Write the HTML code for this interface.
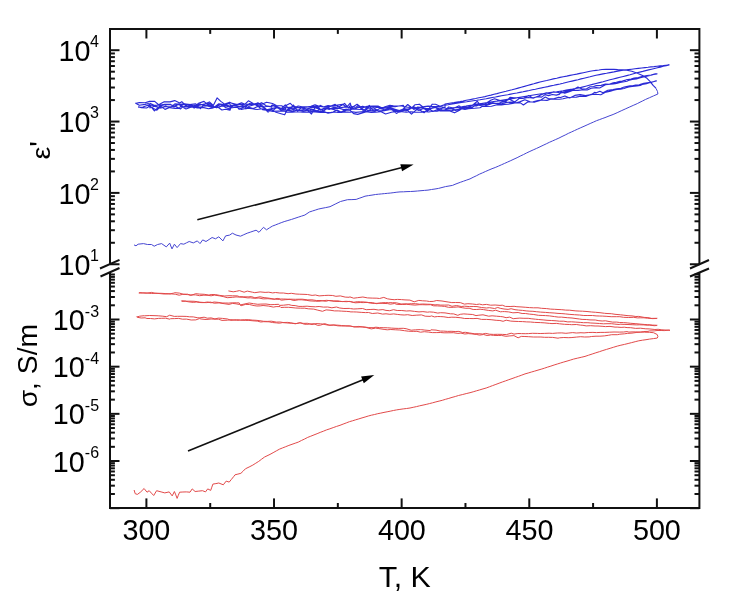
<!DOCTYPE html>
<html><head><meta charset="utf-8"><title>plot</title>
<style>html,body{margin:0;padding:0;background:#fff;} svg{display:block;}</style>
</head><body>
<svg width="743" height="602" viewBox="0 0 743 602"><rect width="100%" height="100%" fill="#fff"/><path d="M110.0,264.0 L110.0,29.0 L699.4,29.0 L699.4,264.0" fill="none" stroke="#111" stroke-width="2.0" stroke-linejoin="miter"/>
<path d="M110.0,272.3 L110.0,507.9 L699.4,507.9 L699.4,272.3" fill="none" stroke="#111" stroke-width="2.0" stroke-linejoin="miter"/>
<line x1="146.40" y1="507.90" x2="146.40" y2="498.40" stroke="#111" stroke-width="2.0"/>
<line x1="146.40" y1="29.00" x2="146.40" y2="38.50" stroke="#111" stroke-width="2.0"/>
<line x1="274.03" y1="507.90" x2="274.03" y2="498.40" stroke="#111" stroke-width="2.0"/>
<line x1="274.03" y1="29.00" x2="274.03" y2="38.50" stroke="#111" stroke-width="2.0"/>
<line x1="401.65" y1="507.90" x2="401.65" y2="498.40" stroke="#111" stroke-width="2.0"/>
<line x1="401.65" y1="29.00" x2="401.65" y2="38.50" stroke="#111" stroke-width="2.0"/>
<line x1="529.28" y1="507.90" x2="529.28" y2="498.40" stroke="#111" stroke-width="2.0"/>
<line x1="529.28" y1="29.00" x2="529.28" y2="38.50" stroke="#111" stroke-width="2.0"/>
<line x1="656.90" y1="507.90" x2="656.90" y2="498.40" stroke="#111" stroke-width="2.0"/>
<line x1="656.90" y1="29.00" x2="656.90" y2="38.50" stroke="#111" stroke-width="2.0"/>
<line x1="210.21" y1="507.90" x2="210.21" y2="503.00" stroke="#111" stroke-width="2.0"/>
<line x1="210.21" y1="29.00" x2="210.21" y2="33.90" stroke="#111" stroke-width="2.0"/>
<line x1="337.84" y1="507.90" x2="337.84" y2="503.00" stroke="#111" stroke-width="2.0"/>
<line x1="337.84" y1="29.00" x2="337.84" y2="33.90" stroke="#111" stroke-width="2.0"/>
<line x1="465.46" y1="507.90" x2="465.46" y2="503.00" stroke="#111" stroke-width="2.0"/>
<line x1="465.46" y1="29.00" x2="465.46" y2="33.90" stroke="#111" stroke-width="2.0"/>
<line x1="593.09" y1="507.90" x2="593.09" y2="503.00" stroke="#111" stroke-width="2.0"/>
<line x1="593.09" y1="29.00" x2="593.09" y2="33.90" stroke="#111" stroke-width="2.0"/>
<line x1="110.00" y1="264.25" x2="119.50" y2="264.25" stroke="#111" stroke-width="2.0"/>
<line x1="699.40" y1="264.25" x2="689.90" y2="264.25" stroke="#111" stroke-width="2.0"/>
<line x1="110.00" y1="242.77" x2="114.90" y2="242.77" stroke="#111" stroke-width="2.0"/>
<line x1="699.40" y1="242.77" x2="694.50" y2="242.77" stroke="#111" stroke-width="2.0"/>
<line x1="110.00" y1="230.21" x2="114.90" y2="230.21" stroke="#111" stroke-width="2.0"/>
<line x1="699.40" y1="230.21" x2="694.50" y2="230.21" stroke="#111" stroke-width="2.0"/>
<line x1="110.00" y1="221.29" x2="114.90" y2="221.29" stroke="#111" stroke-width="2.0"/>
<line x1="699.40" y1="221.29" x2="694.50" y2="221.29" stroke="#111" stroke-width="2.0"/>
<line x1="110.00" y1="214.38" x2="114.90" y2="214.38" stroke="#111" stroke-width="2.0"/>
<line x1="699.40" y1="214.38" x2="694.50" y2="214.38" stroke="#111" stroke-width="2.0"/>
<line x1="110.00" y1="208.73" x2="114.90" y2="208.73" stroke="#111" stroke-width="2.0"/>
<line x1="699.40" y1="208.73" x2="694.50" y2="208.73" stroke="#111" stroke-width="2.0"/>
<line x1="110.00" y1="203.95" x2="114.90" y2="203.95" stroke="#111" stroke-width="2.0"/>
<line x1="699.40" y1="203.95" x2="694.50" y2="203.95" stroke="#111" stroke-width="2.0"/>
<line x1="110.00" y1="199.81" x2="114.90" y2="199.81" stroke="#111" stroke-width="2.0"/>
<line x1="699.40" y1="199.81" x2="694.50" y2="199.81" stroke="#111" stroke-width="2.0"/>
<line x1="110.00" y1="196.16" x2="114.90" y2="196.16" stroke="#111" stroke-width="2.0"/>
<line x1="699.40" y1="196.16" x2="694.50" y2="196.16" stroke="#111" stroke-width="2.0"/>
<line x1="110.00" y1="192.90" x2="119.50" y2="192.90" stroke="#111" stroke-width="2.0"/>
<line x1="699.40" y1="192.90" x2="689.90" y2="192.90" stroke="#111" stroke-width="2.0"/>
<line x1="110.00" y1="171.42" x2="114.90" y2="171.42" stroke="#111" stroke-width="2.0"/>
<line x1="699.40" y1="171.42" x2="694.50" y2="171.42" stroke="#111" stroke-width="2.0"/>
<line x1="110.00" y1="158.86" x2="114.90" y2="158.86" stroke="#111" stroke-width="2.0"/>
<line x1="699.40" y1="158.86" x2="694.50" y2="158.86" stroke="#111" stroke-width="2.0"/>
<line x1="110.00" y1="149.94" x2="114.90" y2="149.94" stroke="#111" stroke-width="2.0"/>
<line x1="699.40" y1="149.94" x2="694.50" y2="149.94" stroke="#111" stroke-width="2.0"/>
<line x1="110.00" y1="143.03" x2="114.90" y2="143.03" stroke="#111" stroke-width="2.0"/>
<line x1="699.40" y1="143.03" x2="694.50" y2="143.03" stroke="#111" stroke-width="2.0"/>
<line x1="110.00" y1="137.38" x2="114.90" y2="137.38" stroke="#111" stroke-width="2.0"/>
<line x1="699.40" y1="137.38" x2="694.50" y2="137.38" stroke="#111" stroke-width="2.0"/>
<line x1="110.00" y1="132.60" x2="114.90" y2="132.60" stroke="#111" stroke-width="2.0"/>
<line x1="699.40" y1="132.60" x2="694.50" y2="132.60" stroke="#111" stroke-width="2.0"/>
<line x1="110.00" y1="128.46" x2="114.90" y2="128.46" stroke="#111" stroke-width="2.0"/>
<line x1="699.40" y1="128.46" x2="694.50" y2="128.46" stroke="#111" stroke-width="2.0"/>
<line x1="110.00" y1="124.81" x2="114.90" y2="124.81" stroke="#111" stroke-width="2.0"/>
<line x1="699.40" y1="124.81" x2="694.50" y2="124.81" stroke="#111" stroke-width="2.0"/>
<line x1="110.00" y1="121.55" x2="119.50" y2="121.55" stroke="#111" stroke-width="2.0"/>
<line x1="699.40" y1="121.55" x2="689.90" y2="121.55" stroke="#111" stroke-width="2.0"/>
<line x1="110.00" y1="100.07" x2="114.90" y2="100.07" stroke="#111" stroke-width="2.0"/>
<line x1="699.40" y1="100.07" x2="694.50" y2="100.07" stroke="#111" stroke-width="2.0"/>
<line x1="110.00" y1="87.51" x2="114.90" y2="87.51" stroke="#111" stroke-width="2.0"/>
<line x1="699.40" y1="87.51" x2="694.50" y2="87.51" stroke="#111" stroke-width="2.0"/>
<line x1="110.00" y1="78.59" x2="114.90" y2="78.59" stroke="#111" stroke-width="2.0"/>
<line x1="699.40" y1="78.59" x2="694.50" y2="78.59" stroke="#111" stroke-width="2.0"/>
<line x1="110.00" y1="71.68" x2="114.90" y2="71.68" stroke="#111" stroke-width="2.0"/>
<line x1="699.40" y1="71.68" x2="694.50" y2="71.68" stroke="#111" stroke-width="2.0"/>
<line x1="110.00" y1="66.03" x2="114.90" y2="66.03" stroke="#111" stroke-width="2.0"/>
<line x1="699.40" y1="66.03" x2="694.50" y2="66.03" stroke="#111" stroke-width="2.0"/>
<line x1="110.00" y1="61.25" x2="114.90" y2="61.25" stroke="#111" stroke-width="2.0"/>
<line x1="699.40" y1="61.25" x2="694.50" y2="61.25" stroke="#111" stroke-width="2.0"/>
<line x1="110.00" y1="57.11" x2="114.90" y2="57.11" stroke="#111" stroke-width="2.0"/>
<line x1="699.40" y1="57.11" x2="694.50" y2="57.11" stroke="#111" stroke-width="2.0"/>
<line x1="110.00" y1="53.46" x2="114.90" y2="53.46" stroke="#111" stroke-width="2.0"/>
<line x1="699.40" y1="53.46" x2="694.50" y2="53.46" stroke="#111" stroke-width="2.0"/>
<line x1="110.00" y1="50.20" x2="119.50" y2="50.20" stroke="#111" stroke-width="2.0"/>
<line x1="699.40" y1="50.20" x2="689.90" y2="50.20" stroke="#111" stroke-width="2.0"/>
<line x1="110.00" y1="508.18" x2="119.50" y2="508.18" stroke="#111" stroke-width="2.0"/>
<line x1="699.40" y1="508.18" x2="689.90" y2="508.18" stroke="#111" stroke-width="2.0"/>
<line x1="110.00" y1="493.98" x2="114.90" y2="493.98" stroke="#111" stroke-width="2.0"/>
<line x1="699.40" y1="493.98" x2="694.50" y2="493.98" stroke="#111" stroke-width="2.0"/>
<line x1="110.00" y1="485.67" x2="114.90" y2="485.67" stroke="#111" stroke-width="2.0"/>
<line x1="699.40" y1="485.67" x2="694.50" y2="485.67" stroke="#111" stroke-width="2.0"/>
<line x1="110.00" y1="479.78" x2="114.90" y2="479.78" stroke="#111" stroke-width="2.0"/>
<line x1="699.40" y1="479.78" x2="694.50" y2="479.78" stroke="#111" stroke-width="2.0"/>
<line x1="110.00" y1="475.21" x2="114.90" y2="475.21" stroke="#111" stroke-width="2.0"/>
<line x1="699.40" y1="475.21" x2="694.50" y2="475.21" stroke="#111" stroke-width="2.0"/>
<line x1="110.00" y1="471.47" x2="114.90" y2="471.47" stroke="#111" stroke-width="2.0"/>
<line x1="699.40" y1="471.47" x2="694.50" y2="471.47" stroke="#111" stroke-width="2.0"/>
<line x1="110.00" y1="468.32" x2="114.90" y2="468.32" stroke="#111" stroke-width="2.0"/>
<line x1="699.40" y1="468.32" x2="694.50" y2="468.32" stroke="#111" stroke-width="2.0"/>
<line x1="110.00" y1="465.58" x2="114.90" y2="465.58" stroke="#111" stroke-width="2.0"/>
<line x1="699.40" y1="465.58" x2="694.50" y2="465.58" stroke="#111" stroke-width="2.0"/>
<line x1="110.00" y1="463.17" x2="114.90" y2="463.17" stroke="#111" stroke-width="2.0"/>
<line x1="699.40" y1="463.17" x2="694.50" y2="463.17" stroke="#111" stroke-width="2.0"/>
<line x1="110.00" y1="461.01" x2="119.50" y2="461.01" stroke="#111" stroke-width="2.0"/>
<line x1="699.40" y1="461.01" x2="689.90" y2="461.01" stroke="#111" stroke-width="2.0"/>
<line x1="110.00" y1="446.81" x2="114.90" y2="446.81" stroke="#111" stroke-width="2.0"/>
<line x1="699.40" y1="446.81" x2="694.50" y2="446.81" stroke="#111" stroke-width="2.0"/>
<line x1="110.00" y1="438.50" x2="114.90" y2="438.50" stroke="#111" stroke-width="2.0"/>
<line x1="699.40" y1="438.50" x2="694.50" y2="438.50" stroke="#111" stroke-width="2.0"/>
<line x1="110.00" y1="432.61" x2="114.90" y2="432.61" stroke="#111" stroke-width="2.0"/>
<line x1="699.40" y1="432.61" x2="694.50" y2="432.61" stroke="#111" stroke-width="2.0"/>
<line x1="110.00" y1="428.04" x2="114.90" y2="428.04" stroke="#111" stroke-width="2.0"/>
<line x1="699.40" y1="428.04" x2="694.50" y2="428.04" stroke="#111" stroke-width="2.0"/>
<line x1="110.00" y1="424.30" x2="114.90" y2="424.30" stroke="#111" stroke-width="2.0"/>
<line x1="699.40" y1="424.30" x2="694.50" y2="424.30" stroke="#111" stroke-width="2.0"/>
<line x1="110.00" y1="421.15" x2="114.90" y2="421.15" stroke="#111" stroke-width="2.0"/>
<line x1="699.40" y1="421.15" x2="694.50" y2="421.15" stroke="#111" stroke-width="2.0"/>
<line x1="110.00" y1="418.41" x2="114.90" y2="418.41" stroke="#111" stroke-width="2.0"/>
<line x1="699.40" y1="418.41" x2="694.50" y2="418.41" stroke="#111" stroke-width="2.0"/>
<line x1="110.00" y1="416.00" x2="114.90" y2="416.00" stroke="#111" stroke-width="2.0"/>
<line x1="699.40" y1="416.00" x2="694.50" y2="416.00" stroke="#111" stroke-width="2.0"/>
<line x1="110.00" y1="413.84" x2="119.50" y2="413.84" stroke="#111" stroke-width="2.0"/>
<line x1="699.40" y1="413.84" x2="689.90" y2="413.84" stroke="#111" stroke-width="2.0"/>
<line x1="110.00" y1="399.64" x2="114.90" y2="399.64" stroke="#111" stroke-width="2.0"/>
<line x1="699.40" y1="399.64" x2="694.50" y2="399.64" stroke="#111" stroke-width="2.0"/>
<line x1="110.00" y1="391.33" x2="114.90" y2="391.33" stroke="#111" stroke-width="2.0"/>
<line x1="699.40" y1="391.33" x2="694.50" y2="391.33" stroke="#111" stroke-width="2.0"/>
<line x1="110.00" y1="385.44" x2="114.90" y2="385.44" stroke="#111" stroke-width="2.0"/>
<line x1="699.40" y1="385.44" x2="694.50" y2="385.44" stroke="#111" stroke-width="2.0"/>
<line x1="110.00" y1="380.87" x2="114.90" y2="380.87" stroke="#111" stroke-width="2.0"/>
<line x1="699.40" y1="380.87" x2="694.50" y2="380.87" stroke="#111" stroke-width="2.0"/>
<line x1="110.00" y1="377.13" x2="114.90" y2="377.13" stroke="#111" stroke-width="2.0"/>
<line x1="699.40" y1="377.13" x2="694.50" y2="377.13" stroke="#111" stroke-width="2.0"/>
<line x1="110.00" y1="373.98" x2="114.90" y2="373.98" stroke="#111" stroke-width="2.0"/>
<line x1="699.40" y1="373.98" x2="694.50" y2="373.98" stroke="#111" stroke-width="2.0"/>
<line x1="110.00" y1="371.24" x2="114.90" y2="371.24" stroke="#111" stroke-width="2.0"/>
<line x1="699.40" y1="371.24" x2="694.50" y2="371.24" stroke="#111" stroke-width="2.0"/>
<line x1="110.00" y1="368.83" x2="114.90" y2="368.83" stroke="#111" stroke-width="2.0"/>
<line x1="699.40" y1="368.83" x2="694.50" y2="368.83" stroke="#111" stroke-width="2.0"/>
<line x1="110.00" y1="366.67" x2="119.50" y2="366.67" stroke="#111" stroke-width="2.0"/>
<line x1="699.40" y1="366.67" x2="689.90" y2="366.67" stroke="#111" stroke-width="2.0"/>
<line x1="110.00" y1="352.47" x2="114.90" y2="352.47" stroke="#111" stroke-width="2.0"/>
<line x1="699.40" y1="352.47" x2="694.50" y2="352.47" stroke="#111" stroke-width="2.0"/>
<line x1="110.00" y1="344.16" x2="114.90" y2="344.16" stroke="#111" stroke-width="2.0"/>
<line x1="699.40" y1="344.16" x2="694.50" y2="344.16" stroke="#111" stroke-width="2.0"/>
<line x1="110.00" y1="338.27" x2="114.90" y2="338.27" stroke="#111" stroke-width="2.0"/>
<line x1="699.40" y1="338.27" x2="694.50" y2="338.27" stroke="#111" stroke-width="2.0"/>
<line x1="110.00" y1="333.70" x2="114.90" y2="333.70" stroke="#111" stroke-width="2.0"/>
<line x1="699.40" y1="333.70" x2="694.50" y2="333.70" stroke="#111" stroke-width="2.0"/>
<line x1="110.00" y1="329.96" x2="114.90" y2="329.96" stroke="#111" stroke-width="2.0"/>
<line x1="699.40" y1="329.96" x2="694.50" y2="329.96" stroke="#111" stroke-width="2.0"/>
<line x1="110.00" y1="326.81" x2="114.90" y2="326.81" stroke="#111" stroke-width="2.0"/>
<line x1="699.40" y1="326.81" x2="694.50" y2="326.81" stroke="#111" stroke-width="2.0"/>
<line x1="110.00" y1="324.07" x2="114.90" y2="324.07" stroke="#111" stroke-width="2.0"/>
<line x1="699.40" y1="324.07" x2="694.50" y2="324.07" stroke="#111" stroke-width="2.0"/>
<line x1="110.00" y1="321.66" x2="114.90" y2="321.66" stroke="#111" stroke-width="2.0"/>
<line x1="699.40" y1="321.66" x2="694.50" y2="321.66" stroke="#111" stroke-width="2.0"/>
<line x1="110.00" y1="319.50" x2="119.50" y2="319.50" stroke="#111" stroke-width="2.0"/>
<line x1="699.40" y1="319.50" x2="689.90" y2="319.50" stroke="#111" stroke-width="2.0"/>
<line x1="110.00" y1="305.30" x2="114.90" y2="305.30" stroke="#111" stroke-width="2.0"/>
<line x1="699.40" y1="305.30" x2="694.50" y2="305.30" stroke="#111" stroke-width="2.0"/>
<line x1="110.00" y1="296.99" x2="114.90" y2="296.99" stroke="#111" stroke-width="2.0"/>
<line x1="699.40" y1="296.99" x2="694.50" y2="296.99" stroke="#111" stroke-width="2.0"/>
<line x1="110.00" y1="291.10" x2="114.90" y2="291.10" stroke="#111" stroke-width="2.0"/>
<line x1="699.40" y1="291.10" x2="694.50" y2="291.10" stroke="#111" stroke-width="2.0"/>
<line x1="110.00" y1="286.53" x2="114.90" y2="286.53" stroke="#111" stroke-width="2.0"/>
<line x1="699.40" y1="286.53" x2="694.50" y2="286.53" stroke="#111" stroke-width="2.0"/>
<line x1="110.00" y1="282.79" x2="114.90" y2="282.79" stroke="#111" stroke-width="2.0"/>
<line x1="699.40" y1="282.79" x2="694.50" y2="282.79" stroke="#111" stroke-width="2.0"/>
<line x1="110.00" y1="279.64" x2="114.90" y2="279.64" stroke="#111" stroke-width="2.0"/>
<line x1="699.40" y1="279.64" x2="694.50" y2="279.64" stroke="#111" stroke-width="2.0"/>
<line x1="110.00" y1="276.90" x2="114.90" y2="276.90" stroke="#111" stroke-width="2.0"/>
<line x1="699.40" y1="276.90" x2="694.50" y2="276.90" stroke="#111" stroke-width="2.0"/>
<line x1="110.00" y1="274.49" x2="114.90" y2="274.49" stroke="#111" stroke-width="2.0"/>
<line x1="699.40" y1="274.49" x2="694.50" y2="274.49" stroke="#111" stroke-width="2.0"/>
<line x1="100.00" y1="268.50" x2="119.50" y2="259.80" stroke="#111" stroke-width="2.0"/>
<line x1="100.50" y1="276.50" x2="119.50" y2="268.00" stroke="#111" stroke-width="2.0"/>
<line x1="690.00" y1="268.50" x2="709.00" y2="260.00" stroke="#111" stroke-width="2.0"/>
<line x1="690.00" y1="276.50" x2="709.00" y2="268.50" stroke="#111" stroke-width="2.0"/>
<text x="122.40" y="539.65" font-size="28.75" font-family="'Liberation Sans', Arial, sans-serif" fill="#000">300</text>
<text x="250.03" y="539.65" font-size="28.75" font-family="'Liberation Sans', Arial, sans-serif" fill="#000">350</text>
<text x="377.90" y="539.65" font-size="28.75" font-family="'Liberation Sans', Arial, sans-serif" fill="#000">400</text>
<text x="505.53" y="539.65" font-size="28.75" font-family="'Liberation Sans', Arial, sans-serif" fill="#000">450</text>
<text x="632.90" y="539.65" font-size="28.75" font-family="'Liberation Sans', Arial, sans-serif" fill="#000">500</text>
<text x="58.45" y="274.90" font-size="28.75" font-family="'Liberation Sans', Arial, sans-serif" fill="#000">10</text>
<text x="90.10" y="261.15" font-size="16" font-family="'Liberation Sans', Arial, sans-serif" fill="#000">1</text>
<text x="58.45" y="203.55" font-size="28.75" font-family="'Liberation Sans', Arial, sans-serif" fill="#000">10</text>
<text x="90.10" y="189.80" font-size="16" font-family="'Liberation Sans', Arial, sans-serif" fill="#000">2</text>
<text x="58.45" y="132.20" font-size="28.75" font-family="'Liberation Sans', Arial, sans-serif" fill="#000">10</text>
<text x="90.10" y="118.45" font-size="16" font-family="'Liberation Sans', Arial, sans-serif" fill="#000">3</text>
<text x="58.45" y="60.85" font-size="28.75" font-family="'Liberation Sans', Arial, sans-serif" fill="#000">10</text>
<text x="90.10" y="47.10" font-size="16" font-family="'Liberation Sans', Arial, sans-serif" fill="#000">4</text>
<text x="52.75" y="330.15" font-size="28.75" font-family="'Liberation Sans', Arial, sans-serif" fill="#000">10</text>
<text x="84.80" y="316.90" font-size="16" font-family="'Liberation Sans', Arial, sans-serif" fill="#000">-3</text>
<text x="52.75" y="377.32" font-size="28.75" font-family="'Liberation Sans', Arial, sans-serif" fill="#000">10</text>
<text x="84.80" y="364.07" font-size="16" font-family="'Liberation Sans', Arial, sans-serif" fill="#000">-4</text>
<text x="52.75" y="424.49" font-size="28.75" font-family="'Liberation Sans', Arial, sans-serif" fill="#000">10</text>
<text x="84.80" y="411.24" font-size="16" font-family="'Liberation Sans', Arial, sans-serif" fill="#000">-5</text>
<text x="52.75" y="471.66" font-size="28.75" font-family="'Liberation Sans', Arial, sans-serif" fill="#000">10</text>
<text x="84.80" y="458.41" font-size="16" font-family="'Liberation Sans', Arial, sans-serif" fill="#000">-6</text>
<text x="378.65" y="587.10" font-size="30.3" font-family="'Liberation Sans', Arial, sans-serif" fill="#000">T, K</text>
<text x="0.00" y="0.00" font-size="29.5" font-family="'Liberation Sans', Arial, sans-serif" fill="#000" transform="translate(50.28,159.48) rotate(-90) scale(0.98,0.87)">ε</text>
<text x="0.00" y="0.00" font-size="29.5" font-family="'Liberation Sans', Arial, sans-serif" fill="#000" transform="translate(49.95,146.85) rotate(-90)">'</text>
<text x="0.00" y="0.00" font-size="28.3" font-family="'Liberation Sans', Arial, sans-serif" fill="#000" transform="translate(36.80,407.35) rotate(-90) scale(1,0.9)">σ</text>
<text x="0.00" y="0.00" font-size="28.3" font-family="'Liberation Sans', Arial, sans-serif" fill="#000" transform="translate(36.80,389.88) rotate(-90)">, S/m</text>
<line x1="197.30" y1="219.80" x2="403.14" y2="167.18" stroke="#111" stroke-width="1.6"/>
<polygon points="413.60,164.50 402.09,171.16 400.31,164.18" fill="#000"/>
<line x1="188.00" y1="451.00" x2="364.30" y2="379.17" stroke="#111" stroke-width="1.6"/>
<polygon points="374.30,375.10 363.80,383.26 361.09,376.60" fill="#000"/>
<polyline points="134.0,244.9 136.0,245.8 138.1,244.2 143.5,243.6 147.5,244.5 151.5,244.5 154.2,246.2 157.6,244.5 161.6,243.6 166.3,246.9 169.7,243.1 170.8,246.0 172.0,248.9 174.4,244.2 177.1,247.6 180.5,243.6 183.8,244.2 186.5,242.8 189.2,241.5 193.3,242.9 197.3,240.9 200.0,243.6 202.7,239.9 206.0,241.5 209.1,239.5 212.1,237.5 215.5,238.8 218.8,236.8 222.9,240.9 225.6,235.9 229.6,235.1 232.4,233.2 236.0,235.0 240.5,236.2 243.8,234.7 247.2,233.2 250.2,232.2 253.1,231.2 256.1,230.2 259.0,232.3 261.2,229.8 263.5,227.3 266.5,229.8 269.4,227.9 272.4,226.1 275.3,225.0 278.3,223.8 281.2,222.7 284.2,221.6 287.9,220.5 291.6,219.4 294.9,218.3 298.2,217.2 301.6,216.1 304.9,215.0 309.4,212.0 312.4,211.0 315.3,210.1 318.3,209.1 322.0,208.3 325.7,207.6 330.0,206.7 335.2,204.1 340.5,201.5 344.0,200.6 347.5,199.7 351.9,199.6 356.2,199.4 359.1,198.3 362.1,197.3 365.0,196.2 368.5,195.6 372.0,195.1 375.5,194.5 378.6,194.2 381.6,193.9 384.6,193.6 387.7,193.3 390.8,193.0 393.9,192.6 396.9,192.2 400.0,191.9 403.5,191.8 407.0,191.6 410.5,191.5 414.0,191.3 417.5,191.0 421.0,190.7 424.5,190.4 428.0,190.1 431.5,189.5 435.0,189.0 438.5,188.4 442.0,187.5 445.5,186.6 449.0,186.0 452.5,185.4 455.0,184.3 460.3,182.3 463.5,181.2 466.8,180.0 470.0,178.9 473.1,177.3 476.3,175.8 479.4,174.2 482.6,172.8 485.7,171.4 488.9,170.0 492.0,168.7 495.2,167.5 498.3,166.2 501.4,164.8 504.6,163.4 507.7,162.0 510.8,160.6 514.0,159.1 517.1,157.7 520.2,156.1 523.4,154.6 526.5,153.0 529.9,151.4 533.2,149.9 536.6,148.4 540.0,146.8 543.1,145.3 546.3,143.8 549.4,142.3 552.6,140.9 555.7,139.5 558.9,138.1 562.0,136.5 565.2,135.0 568.3,133.4 571.4,132.0 574.6,130.5 577.7,129.1 580.8,127.7 584.0,126.3 587.1,124.9 590.2,123.5 593.4,122.1 596.5,120.7 599.3,119.7 602.2,118.6 605.0,117.6 609.0,116.0 613.1,114.5 617.2,112.7 621.2,110.8 625.2,109.0 629.2,107.2 633.2,105.4 637.3,103.6 640.0,102.2 642.7,100.9 645.4,99.5 649.5,97.7 653.5,95.9 657.9,94.0 657.9,94.0 657.5,91.5 655.9,88.2" fill="none" stroke="#4646d2" stroke-width="1.0" stroke-linejoin="round"/>
<polyline points="655.9,88.2 653.1,85.4 650.0,81.3 647.0,78.3 642.0,75.3 636.8,73.0 631.8,71.3 626.7,70.3 621.6,69.7 617.7,69.6 613.9,69.4 610.0,69.3 606.0,69.4 602.0,69.5 599.0,70.0 596.0,70.4 593.0,70.8 590.0,71.3 586.7,72.0 583.3,72.7 580.0,73.4 576.7,74.1 573.3,74.7 570.0,75.4 566.7,76.1 563.3,76.7 560.0,77.4 556.7,78.2 553.3,78.9 550.0,79.7 546.7,80.5 543.3,81.2 540.0,82.0 536.9,82.9 533.8,83.8 530.6,84.6 527.5,85.5 524.4,86.4 521.2,87.2 518.1,88.1 515.0,89.0 512.0,89.8 509.0,90.5 506.0,91.3 503.0,92.0 500.0,92.8 497.0,93.6 494.0,94.3 491.0,95.1 488.0,95.8 485.0,96.6 481.9,97.2 478.8,97.8 475.6,98.5 472.5,99.1 469.4,99.7 466.2,100.3 463.1,101.0 460.0,101.6 457.0,102.1 454.0,102.6 451.0,103.0 448.0,103.5 445.0,104.0 445.0,104.6 440.0,106.3 435.5,104.3 432.3,104.2 428.7,109.1 424.2,108.0 419.4,104.2 415.1,104.7 412.0,107.6 406.0,107.0 400.6,105.8 396.9,106.1 393.4,105.8 389.9,105.4 385.0,106.8 382.3,108.0 378.0,106.1 373.0,106.0 367.1,106.4 362.0,107.9 357.1,104.3 351.6,107.8 350.2,103.1 346.7,107.2 342.6,104.3 337.6,105.1 333.1,106.2 328.0,105.6 324.1,106.9 319.9,106.5 315.0,104.8 310.9,106.4 306.2,107.1 302.0,106.7 298.2,106.0 294.7,107.8 290.3,103.3 285.0,105.9 285.6,108.8 281.7,105.8 276.4,105.5 272.5,103.5 266.6,102.3 261.8,104.2 258.5,103.9 253.2,103.6 248.4,100.8 245.0,104.2 241.5,102.9 237.1,104.6 232.3,103.4 229.7,102.2 224.7,104.1 220.8,101.4 217.1,97.9 213.3,105.5 209.4,101.9 204.2,104.3 200.4,108.7 195.8,103.9 191.6,104.2 185.5,105.4 181.8,101.7 179.7,103.0 174.7,100.6 170.0,101.9 164.2,101.7 158.6,104.7 154.7,101.4 149.6,101.4 145.0,102.8 139.3,102.6 136.1,103.3 135.7,103.2 139.3,105.3 145.1,104.4 148.3,103.5 154.4,110.9 160.0,105.9 164.7,104.6 169.9,104.4 174.5,106.3 178.2,104.1 180.0,104.4 184.6,103.9 190.0,104.9 194.1,108.1 198.5,103.2 204.0,101.4 208.0,105.2 213.6,107.7 218.5,103.9 223.3,105.0 229.7,103.5 230.5,105.4 235.6,105.3 239.4,104.3 244.5,106.6 245.3,107.4 249.5,103.5 254.9,104.3 257.9,102.8 263.3,107.3 266.5,106.2 270.5,106.8 271.7,105.3 275.1,106.5 280.1,108.2 284.5,109.5 285.3,111.6 289.1,108.1 293.6,109.7 297.5,107.2 301.8,108.0 305.1,109.3 310.2,108.1 313.9,106.2 317.6,107.4 320.4,110.0 325.5,107.6 329.1,109.4 333.3,107.6 339.3,106.7 344.6,103.4 348.4,107.8 349.7,107.3 354.2,108.8 359.9,107.3 365.2,110.8 369.5,106.4 373.3,106.1 378.4,107.0 381.5,108.7 388.0,107.5 390.3,107.8 393.8,109.4 400.0,112.1 404.1,108.5 408.2,109.9 413.8,106.7 417.6,108.8 422.8,107.3 427.4,111.1 433.4,107.1 437.6,107.9 441.3,108.5 445.0,107.5 445.0,105.3 448.0,104.8 451.0,104.2 454.0,103.7 457.0,103.1 460.0,102.6 463.3,102.1 466.7,101.7 470.0,101.2 473.3,100.7 476.7,100.3 480.0,99.8 483.1,99.2 486.2,98.7 489.2,98.1 492.3,97.5 495.4,97.0 498.5,96.4 501.5,95.8 504.6,95.2 507.7,94.7 510.8,94.1 513.8,93.5 516.9,93.0 520.0,92.4 523.1,91.8 526.2,91.1 529.2,90.5 532.3,89.8 535.4,89.2 538.5,88.5 541.5,87.9 544.6,87.2 547.7,86.6 550.8,85.9 553.8,85.3 556.9,84.6 560.0,84.0 563.0,83.3 566.0,82.5 569.0,81.8 572.0,81.1 575.0,80.4 578.0,79.7 581.0,78.9 584.0,78.2 587.0,77.5 590.0,76.8 593.0,76.0 596.0,75.3 599.5,74.6 603.0,73.9 606.5,73.3 610.0,72.6 613.9,71.9 617.7,71.1 621.6,70.4 624.9,70.0 628.3,69.6 631.6,69.2 635.0,68.8 638.3,68.4 641.7,68.0 645.0,67.6 648.0,67.3 651.0,66.9 654.0,66.6 657.0,66.2 660.1,65.9 663.1,65.6 666.1,65.2 669.1,64.9 669.1,64.9 666.2,65.6 663.2,66.3 660.3,67.1 657.4,67.8 654.5,68.5 651.5,69.2 648.6,69.9 645.7,70.6 642.8,71.4 639.8,72.1 636.9,72.8 633.5,73.8 630.0,74.8 626.7,75.6 623.3,76.5 620.0,77.3 616.7,78.1 613.3,79.0 610.0,79.8 606.5,80.7 603.0,81.7 599.5,82.6 596.0,83.5 592.6,84.4 589.1,85.3 585.7,86.2 582.2,87.1 578.8,88.0 575.7,88.5 572.5,89.1 569.4,89.6 566.3,90.1 563.1,90.7 560.0,91.2 556.6,91.7 553.3,92.1 549.9,92.6 546.6,93.1 543.2,93.6 539.9,94.0 536.5,94.5 533.5,95.0 530.4,95.5 527.4,96.0 524.3,96.5 521.3,97.0 518.2,97.5 515.2,98.1 512.2,98.6 509.1,99.1 506.1,99.6 503.0,100.1 500.0,100.6 496.9,101.1 493.8,101.5 490.6,102.0 487.5,102.5 484.4,103.0 481.2,103.5 478.1,103.9 475.0,104.4 472.0,105.0 469.0,105.5 466.0,106.1 463.0,106.6 460.0,107.2 460.4,108.9 455.7,110.4 451.8,109.0 448.4,108.6 443.6,110.2 438.3,109.3 433.1,111.4 428.2,108.6 423.2,108.5 418.9,110.4 413.5,107.5 408.5,108.8 404.1,109.5 400.1,110.9 396.4,113.4 393.4,110.7 389.7,107.7 384.6,109.7 379.7,108.5 374.9,111.3 370.5,110.6 365.3,109.8 361.2,109.5 356.9,109.2 352.7,108.7 349.8,110.2 345.8,109.4 340.6,112.2 336.2,110.2 331.2,109.0 327.7,107.7 323.9,110.9 320.0,109.0 316.2,105.3 311.5,114.1 306.9,109.7 302.5,106.8 297.6,111.0 293.5,105.0 289.9,109.1 286.5,110.2 285.4,109.6 280.9,110.0 276.9,107.2 272.4,110.9 271.7,108.2 268.1,112.2 261.9,106.4 258.3,106.8 254.9,104.4 249.2,106.2 246.0,108.9 244.9,106.8 239.2,109.3 234.8,104.2 230.5,107.5 229.5,109.1 225.7,107.4 220.9,104.5 216.2,106.6 211.7,107.3 209.1,106.4 204.6,105.2 201.4,107.1 196.8,107.0 190.8,107.3 186.0,109.0 180.7,106.0 179.5,108.3 175.1,108.4 169.8,107.8 165.6,106.0 161.1,108.0 155.1,106.5 151.6,104.9 146.6,108.0 141.2,107.6 138.5,106.8 139.0,107.3 142.9,107.0 147.9,105.2 151.7,107.6 155.1,105.7 159.8,108.1 164.8,106.7 171.5,106.7 174.9,103.9 179.6,104.4 183.6,107.0 187.6,104.9 190.7,106.1 196.5,105.4 200.1,104.0 204.8,106.1 208.9,105.0 212.2,106.0 216.6,107.8 221.5,106.1 225.0,105.6 228.5,106.6 230.5,107.5 233.7,105.7 237.8,106.1 242.6,106.7 245.1,105.9 250.6,104.2 256.1,104.1 258.5,105.7 262.7,105.9 266.6,109.7 272.0,108.5 271.7,108.6 275.9,107.6 281.6,108.8 285.5,107.7 289.4,107.3 294.8,108.7 298.5,110.2 303.2,110.9 308.6,110.2 311.6,109.1 316.9,110.9 319.7,109.3 324.9,108.9 329.6,108.8 333.6,108.6 339.0,108.3 343.8,109.6 349.6,109.0 350.1,108.6 354.4,109.1 358.0,105.4 363.3,110.8 369.3,105.3 372.4,109.6 378.9,110.8 381.9,110.5 385.7,109.6 390.4,108.2 390.0,107.6 395.0,109.2 399.3,110.5 402.8,109.3 407.7,104.5 413.8,109.4 417.7,107.0 421.8,107.6 425.5,109.6 430.2,108.6 435.4,107.4 440.2,111.0 445.4,110.6 448.6,107.0 452.2,107.8 458.7,107.6 460.0,108.0 460.0,108.2 464.3,107.9 468.5,108.0 472.9,105.0 477.3,101.3 480.0,104.6 484.6,104.3 490.7,100.2 494.5,98.8 500.1,100.6 505.6,101.9 510.0,97.4 514.0,97.8 517.9,97.7 519.4,98.4 523.6,98.3 528.6,95.5 533.1,98.2 539.0,95.8 541.9,94.4 546.4,92.9 549.1,93.6 553.6,91.9 558.6,92.5 560.2,93.1 563.4,92.1 569.3,90.6 572.7,89.9 577.9,87.1 582.2,89.0 586.6,88.8 590.1,86.7 593.7,86.5 596.2,85.6 601.1,85.4 605.4,84.0 609.2,84.2 613.2,82.9 616.3,82.3 620.0,81.4 622.3,81.0 625.7,80.1 626.3,79.8 631.0,79.0 634.1,78.1 638.3,77.6 640.1,77.0 642.7,76.4 647.1,75.5 651.0,75.1 655.3,73.9 656.4,73.8 657.0,73.9 653.6,74.5 650.0,75.4 646.8,76.1 642.4,77.2 640.4,77.8 636.4,78.9 632.2,79.5 628.4,80.5 626.9,81.2 624.3,81.8 620.1,82.5 616.6,83.4 613.4,83.9 610.5,84.3 605.5,84.8 599.6,88.0 596.1,87.6 591.2,88.2 587.2,90.0 583.5,89.8 578.0,90.4 573.3,90.2 568.6,91.9 564.7,93.1 560.9,91.7 559.7,94.1 556.3,95.1 552.3,94.5 548.6,95.6 545.1,94.6 541.6,97.1 538.0,96.6 532.3,98.0 528.2,97.5 522.5,98.5 519.4,98.4 514.7,102.0 509.5,99.2 504.4,101.3 499.4,103.0 494.8,103.5 490.6,102.9 485.3,104.8 480.5,103.5 480.2,104.5 476.4,106.0 470.8,106.0 464.8,108.3 460.8,108.5 460.0,108.6 459.6,110.2 454.5,112.8 449.9,110.9 445.4,110.9 441.4,109.9 436.7,111.3 432.4,110.8 428.1,109.1 424.1,112.7 419.7,109.9 416.2,109.8 411.5,114.2 406.8,109.8 403.4,110.6 398.3,111.6 393.3,110.1 390.5,109.5 384.3,110.8 379.3,111.5 373.1,107.4 368.3,111.1 362.4,112.9 357.7,114.4 353.6,113.6 350.0,110.3 346.8,109.9 341.8,112.5 337.0,109.9 333.1,112.1 328.0,113.1 323.0,111.3 320.5,111.3 315.2,110.9 310.9,110.8 305.6,108.9 300.7,110.3 296.8,110.2 292.9,111.1 287.0,110.1 284.7,114.8 281.0,113.7 276.0,112.3 271.6,109.4 266.4,109.5 260.6,108.8 258.3,106.2 253.2,108.6 248.9,107.4 245.1,106.8 240.9,108.3 235.7,107.3 230.6,108.0 230.1,110.1 225.5,109.2 221.9,110.0 217.1,106.5 212.1,108.1 208.4,108.7 202.9,107.4 197.3,107.9 193.5,106.9 187.2,106.6 182.0,107.3 180.6,109.0 174.9,105.9 170.7,107.0 165.0,109.4 160.9,106.1 156.9,110.2 150.6,106.9 150.0,107.9 149.9,103.2 154.1,105.3 158.9,105.2 164.8,104.3 170.3,104.2 173.8,106.9 178.1,104.4 180.2,105.3 186.0,104.1 190.6,104.6 195.1,106.9 198.6,105.5 204.1,104.0 209.8,103.6 214.9,107.5 220.0,104.0 224.2,104.5 228.8,105.8 230.5,106.5 235.1,104.9 238.8,104.1 243.9,104.7 244.9,104.1 248.9,104.2 254.3,104.7 257.6,104.3 261.6,102.7 266.2,105.8 271.9,106.9 272.3,105.0 277.1,106.7 281.2,108.6 285.3,104.8 288.2,108.2 293.6,106.1 298.4,107.8 302.5,106.8 308.6,106.8 313.5,107.4 318.3,108.6 320.0,105.4 323.8,107.0 328.5,107.1 335.2,104.4 340.1,107.8 345.7,106.9 348.6,107.5 350.3,105.7 354.0,107.2 358.3,107.4 362.8,106.2 368.2,108.1 374.0,107.8 378.0,107.3 381.5,107.5 386.1,107.7 389.4,106.8 395.3,106.6 398.7,106.0 403.4,105.4 406.0,110.9 411.0,108.0 415.4,108.4 420.0,107.6 424.3,106.6 428.1,106.1 434.0,106.6 437.9,106.2 442.7,107.1 447.1,108.7 453.2,108.4 458.6,105.9 460.0,106.3 459.5,110.4 464.8,106.7 468.5,107.5 472.3,107.6 476.0,104.6 480.2,105.5 484.7,106.0 489.4,104.5 493.2,102.9 497.8,104.0 501.9,103.6 506.0,102.5 511.1,102.1 516.2,102.7 519.7,101.9 524.8,99.8 530.2,101.8 534.1,102.3 540.1,100.4 545.3,97.1 548.6,98.8 554.3,98.5 558.7,97.2 560.5,97.5 564.9,96.0 569.7,98.0 574.8,95.4 580.1,94.6 585.5,95.5 591.4,94.6 594.5,92.4 596.3,92.8 599.9,91.3 603.0,92.7 607.8,90.3 613.0,89.6 616.9,88.7 620.9,88.2 624.2,87.0 626.5,86.5 630.1,85.8 632.6,85.7 635.6,85.0 639.6,84.8 639.7,84.5 643.8,83.4 648.8,82.6 651.0,82.2 655.2,81.3 656.4,81.0 656.1,80.8 652.6,82.0 649.3,82.8 646.5,83.7 642.2,84.4 640.2,85.4 636.9,85.9 632.2,86.5 628.8,87.0 626.1,87.7 624.0,88.5 620.6,89.1 616.9,89.5 613.6,90.3 610.5,91.1 605.9,92.1 600.8,94.8 595.7,94.3 596.1,94.4 591.3,94.4 586.3,96.3 580.5,96.3 576.3,97.1 572.2,97.2 567.2,97.8 563.1,98.7 559.5,99.2 554.9,99.2 550.5,99.3 547.0,100.4 540.9,100.0 537.9,100.5 533.1,101.7 527.7,102.0 523.4,105.0 520.4,102.9 515.9,102.8 512.6,103.4 508.0,104.2 504.6,104.4 501.5,104.9 496.9,104.7 491.5,106.2 486.4,106.5 482.4,106.3 480.0,107.7 474.4,108.3 468.4,108.7 465.0,109.4 460.9,108.8 460.6,109.4 454.7,109.9 451.3,110.7 445.9,110.1 440.7,110.1 437.1,111.1 432.7,111.3 428.7,112.0 423.4,111.5 423.0,111.9 419.5,112.2 414.1,112.0 410.6,111.7 406.3,112.2 399.9,111.4 395.8,111.4 391.4,112.3 385.6,114.0 380.7,111.6 375.5,112.3 371.3,112.4 366.0,111.6 361.6,111.8 355.9,112.4 352.2,111.8 350.4,112.2 345.2,111.9 342.3,112.2 338.0,112.4 335.1,112.0 330.7,112.7 325.9,112.2 320.3,112.4 315.1,111.9 311.5,111.6 307.9,112.1 302.8,112.1 297.8,111.7 292.3,112.1 286.4,112.0 285.4,111.1 281.8,111.1 277.9,111.1 272.9,111.4 268.4,110.4 262.5,109.8 262.4,108.8 257.2,109.5 252.2,108.8 246.9,108.1 241.3,109.5 240.0,108.8" fill="none" stroke="#2a2ad6" stroke-width="1.15" stroke-linejoin="round"/>
<polyline points="134.1,490.0 135.2,493.7 137.4,494.4 140.4,492.2 144.1,488.5 147.0,492.2 149.2,490.7 151.4,493.1 153.7,495.5 156.6,490.7 161.1,491.9 164.8,492.9 169.2,491.9 172.2,495.9 174.4,491.5 175.8,494.9 177.1,498.4 178.3,495.3 179.6,492.2 182.9,492.0 186.3,491.9 190.0,492.2 192.2,488.9 195.1,491.5 198.8,491.1 202.5,490.7 205.5,491.9 207.7,488.9 210.7,490.4 211.8,487.2 212.9,484.1 215.9,483.6 218.8,483.0 223.3,484.8 226.2,481.1 229.2,482.1 231.4,479.4 233.6,476.7 235.0,474.8 237.9,474.1 240.9,473.3 243.2,471.1 245.4,468.8 249.1,467.0 252.8,465.1 255.8,463.2 258.7,461.4 261.6,459.2 264.6,457.0 270.0,454.4 273.1,452.7 276.3,450.9 279.4,449.2 282.6,447.9 285.7,446.7 288.9,445.4 292.0,444.3 295.2,443.2 298.3,442.1 301.4,440.5 304.6,439.0 307.7,437.4 310.8,436.2 314.0,434.9 317.1,433.7 320.2,432.4 323.4,431.2 326.5,429.9 329.9,428.8 333.2,427.6 336.6,426.4 340.0,425.3 343.1,424.1 346.3,422.9 349.4,421.7 352.5,420.8 355.7,419.8 358.8,418.9 362.0,417.9 365.1,417.0 368.3,416.0 371.4,415.2 374.6,414.5 377.7,413.7 380.8,413.1 384.0,412.4 387.1,411.8 390.2,411.2 393.4,410.5 396.5,409.9 399.9,409.4 403.2,408.9 406.6,408.5 410.0,408.0 413.2,407.3 416.5,406.6 419.7,405.8 423.0,405.1 426.2,404.4 429.4,403.6 432.6,402.8 435.9,401.9 439.1,401.1 442.3,400.3 445.5,399.3 448.8,398.4 452.0,397.4 455.3,396.5 458.5,395.5 462.3,394.6 466.2,393.6 470.0,392.7 473.2,391.8 476.5,390.8 479.7,389.9 483.0,388.9 486.2,388.0 489.4,386.8 492.6,385.6 495.9,384.4 499.1,383.2 502.3,382.0 505.5,380.9 508.8,379.7 512.0,378.6 515.3,377.4 518.5,376.3 521.8,375.1 525.0,373.9 528.2,373.0 531.5,372.0 534.7,371.1 538.0,370.1 541.2,369.2 544.4,368.2 547.6,367.1 550.9,366.1 554.1,365.0 557.3,364.0 560.5,363.0 563.8,362.0 567.0,361.1 570.3,360.1 573.5,359.1 577.3,358.2 581.2,357.3 585.0,356.4 588.6,355.2 592.2,354.0 595.8,352.8 599.4,351.7 602.9,350.5 606.5,349.4 610.1,348.3 613.7,347.2 617.3,346.1 620.9,345.2 624.5,344.4 628.1,343.5 631.7,342.6 635.2,341.7 638.8,340.8 642.4,340.2 646.0,339.7 649.6,339.1 653.4,338.6 657.1,338.1 657.3,338.0 657.9,336.5 657.2,334.5 653.5,332.7 649.4,332.3 644.6,332.2 640.7,332.1 635.8,331.9 632.0,331.9 628.9,332.1 627.0,331.6 623.6,332.0 619.4,332.1 614.0,332.0 609.4,332.2 604.8,332.4 600.9,332.4 596.5,332.6 592.9,332.4 588.3,332.5 584.1,332.9 580.1,332.7 580.2,332.8 576.3,333.0 572.7,332.6 568.9,333.0 565.9,333.3 561.8,332.9 557.3,333.0 552.5,333.4 549.1,333.2 544.3,333.4 540.2,333.5 540.0,333.5 537.3,333.4 532.3,333.3 528.4,333.6 525.2,333.7 521.5,333.6 517.9,333.5 514.0,334.1 511.2,333.2 506.4,334.6 502.6,334.4 497.4,334.3 493.5,334.4 489.5,334.2 485.7,333.4 482.6,334.0 478.2,333.7 474.8,333.8 469.6,333.0 465.5,332.3 462.6,332.5 458.9,331.4 455.2,331.5 451.1,331.3 447.6,331.4 443.5,331.1 440.5,331.1 436.0,330.1 430.9,329.8 430.4,330.6 424.9,330.1 421.8,329.7 420.5,329.6 415.5,329.8 411.2,330.2 406.1,328.7 403.2,328.3 398.3,328.4 395.0,328.3 391.6,328.1 387.6,327.8 383.2,327.7 379.4,327.6 375.9,327.2 373.1,327.7 368.8,327.6 365.0,327.1 362.1,326.8 357.8,327.1 353.5,326.6 350.4,326.2 345.6,325.8 341.6,326.0 337.7,325.8 333.7,325.0 329.9,325.3 324.5,323.6 320.7,325.1 317.7,325.4 313.9,323.7 309.6,324.0 306.3,324.4 303.7,324.0 300.2,322.7 296.3,323.5 291.5,323.3 286.2,322.9 282.5,322.6 279.5,323.2 276.6,322.9 272.4,322.5 269.0,321.8 263.6,321.7 260.7,322.0 257.3,321.1 254.1,320.9 248.9,320.4 245.8,320.4 240.7,320.2 239.6,320.2 236.7,320.3 231.0,319.7 227.6,320.2 222.0,320.4 218.4,319.2 215.0,319.2 211.1,319.0 206.1,319.5 201.1,319.0 199.4,318.6 195.8,319.9 191.2,320.0 186.4,319.1 182.6,319.2 178.7,318.4 174.4,318.6 170.6,318.7 169.9,319.2 165.5,318.2 161.7,318.3 158.4,318.4 154.5,318.9 150.5,318.5 146.9,318.5 145.1,317.8 141.2,318.0 137.9,317.4 136.7,316.8 136.9,317.0 139.7,316.2 144.1,315.7 144.7,315.8 149.7,315.5 153.0,315.6 158.2,315.8 162.8,316.2 166.7,316.7 169.7,315.2 174.3,316.4 177.5,316.3 182.0,316.3 186.2,316.4 189.3,316.8 193.3,316.9 197.8,317.8 199.9,317.8 204.1,317.2 207.3,318.2 211.2,317.9 214.9,318.9 218.5,318.1 222.4,318.4 227.7,319.0 230.8,320.4 236.3,319.7 240.5,320.0 244.7,319.7 248.8,319.7 252.3,320.1 256.1,320.3 259.1,320.6 263.7,321.3 267.3,321.4 271.4,321.2 276.3,322.1 280.2,322.0 283.1,322.5 287.6,322.4 290.5,322.7 295.2,323.8 299.8,322.9 303.8,323.4 307.4,323.3 312.1,324.6 315.9,323.6 320.6,323.8 323.8,324.3 328.3,325.2 334.0,325.0 336.8,325.1 341.5,325.5 346.1,326.0 349.7,325.8 354.2,327.0 358.9,326.4 362.3,327.0 365.8,327.4 371.3,328.9 375.6,328.1 378.9,328.6 384.1,329.4 387.2,329.8 390.8,329.5 395.7,329.8 399.8,330.0 404.5,330.7 408.3,331.2 413.3,331.4 416.9,331.3 420.5,332.2 424.3,331.7 428.7,332.1 432.3,332.6 436.2,332.6 440.3,332.5 444.1,332.8 448.1,332.8 453.4,332.7 457.9,333.4 460.9,333.1 464.8,334.0 468.2,333.6 471.8,333.9 476.8,334.5 479.6,335.1 483.6,334.5 487.1,335.5 490.6,335.0 493.6,335.4 498.2,335.5 501.4,335.4 505.9,336.3 509.9,335.9 513.9,335.6 518.1,337.8 521.3,336.4 524.9,336.5 528.7,336.7 533.3,337.0 537.9,337.0 540.9,337.0 544.5,337.3 548.6,337.3 552.7,337.4 558.0,338.2 559.6,337.8 563.8,337.5 568.2,337.7 571.1,337.6 576.3,337.1 580.7,336.7 584.7,337.0 589.2,336.9 591.4,336.5 596.0,336.2 599.9,336.2 604.3,335.9 608.3,335.3 611.7,334.7 617.3,334.7 619.8,334.2 624.5,333.8 627.4,333.4 632.0,333.1 636.1,332.5 640.2,332.2 643.8,331.5 648.0,331.4 649.5,330.9 654.1,330.9 657.0,330.5 661.9,330.5 664.2,330.6 668.8,330.1 669.5,330.2 670.0,330.3 665.0,330.0 661.9,329.8 658.1,329.3 654.9,329.5 649.1,328.9 645.8,328.8 643.1,328.5 640.4,328.2 635.6,328.4 630.7,327.7 627.1,327.6 624.3,327.2 621.1,327.4 617.2,327.1 615.0,327.1 610.0,326.4 605.5,326.6 602.1,326.3 598.0,326.0 595.1,326.0 590.7,325.7 586.2,325.9 582.9,325.3 580.3,325.1 576.3,324.5 571.7,324.7 569.3,324.5 564.5,324.3 559.5,323.8 556.3,323.4 552.0,323.6 549.7,323.4 544.9,322.9 540.3,322.6 534.6,322.4 530.5,322.0 526.7,321.9 522.6,321.6 518.6,321.5 514.0,321.3 510.8,321.1 506.2,320.2 503.1,321.3 499.9,320.5 496.2,320.3 491.1,319.7 486.4,319.4 481.5,319.4 477.1,318.4 473.1,318.6 469.7,318.5 464.7,318.5 460.9,317.8 455.8,317.3 451.8,317.2 448.2,317.5 443.9,316.8 440.8,316.6 437.7,316.5 434.4,316.9 431.5,315.9 430.1,316.4 425.2,316.2 421.5,314.9 416.2,315.2 412.2,315.5 407.7,314.7 404.2,315.0 400.9,314.8 397.3,314.4 393.7,313.9 389.9,314.3 386.0,313.8 382.6,314.1 377.8,313.0 372.3,313.5 368.5,312.5 365.5,312.6 361.8,312.4 356.8,312.0 353.5,311.9 350.2,311.9 350.2,311.7 346.7,311.4 341.3,311.1 338.2,310.9 334.6,310.9 330.0,310.2 326.1,309.9 322.5,311.3 317.2,310.0 313.7,309.1 308.3,308.8 304.7,308.2 300.7,308.2 295.8,308.0 292.0,307.6 288.4,307.3 284.2,307.3 280.9,307.5 280.1,306.6 276.1,306.6 273.3,307.1 268.7,306.1 263.1,305.5 260.1,305.9 256.9,306.0 254.1,305.6 249.4,304.5 245.6,304.4 241.1,305.7 239.5,304.5 236.0,303.8 232.5,303.4 229.1,304.4 224.2,303.7 219.2,302.9 214.2,303.2 210.5,302.1 206.7,302.6 202.0,302.6 199.9,302.5 196.3,302.0 193.4,302.4 188.4,301.8 185.4,301.2 181.8,301.3 181.5,300.8 186.6,301.2 190.0,301.2 194.1,301.3 197.3,301.7 199.9,302.2 204.2,302.5 207.5,302.0 211.0,302.8 214.1,302.0 218.3,302.4 222.1,303.0 225.7,303.0 228.7,303.1 232.3,302.8 236.3,302.8 239.2,302.9 240.3,304.9 245.0,303.9 249.2,303.0 253.5,303.7 257.8,304.3 260.9,304.1 266.0,304.0 270.9,304.7 274.8,304.5 278.7,304.3 279.4,305.4 283.5,305.2 288.8,304.6 291.8,305.4 295.1,305.6 298.9,306.4 302.8,306.4 307.1,306.2 311.0,306.6 315.3,306.8 319.1,306.5 323.4,307.1 327.7,307.0 331.9,307.8 336.4,307.0 339.7,308.0 343.9,308.5 349.2,308.4 350.6,308.6 353.7,309.0 357.8,308.8 362.5,308.5 366.2,309.7 370.1,309.5 374.0,309.3 378.3,310.0 382.9,309.6 386.0,310.4 389.7,310.7 393.5,309.7 397.2,310.5 401.8,310.5 406.4,311.0 410.0,310.8 414.6,311.4 419.0,311.9 422.9,311.6 427.6,312.2 429.5,311.9 433.5,312.2 437.8,313.1 440.6,312.7 445.0,312.9 450.5,313.8 453.7,313.9 457.8,315.3 460.3,314.3 463.8,313.9 467.8,314.2 472.7,314.5 476.0,315.6 478.9,315.2 483.0,314.8 488.7,316.2 492.1,315.8 496.5,316.2 500.3,316.5 502.9,316.8 506.1,317.7 509.7,317.1 513.2,318.7 517.0,318.3 519.8,318.1 523.9,318.3 528.2,318.3 531.8,318.8 535.4,319.2 538.6,319.5 543.1,319.9 547.0,320.3 551.3,320.5 556.1,320.8 559.3,321.2 563.8,321.2 567.8,321.9 571.4,321.8 575.8,322.1 580.2,322.4 583.5,322.7 587.9,322.7 590.8,323.0 595.0,323.2 599.5,323.5 603.5,323.8 607.0,323.7 611.5,323.7 614.8,324.1 619.1,324.5 620.1,324.2 624.1,324.4 628.0,324.5 632.1,324.7 636.7,324.9 639.4,324.8 643.7,324.9 647.1,325.2 649.4,325.1 654.2,325.7 656.7,325.5 657.2,325.3 652.5,325.1 647.7,324.7 644.9,324.5 640.1,324.1 635.9,323.7 630.8,323.3 627.2,322.9 623.4,322.6 619.7,322.5 616.7,322.1 612.7,322.1 609.0,321.5 605.5,320.8 602.2,321.0 598.9,320.7 595.3,320.0 590.0,319.9 586.3,319.5 582.1,319.4 579.5,319.0 577.0,318.7 572.0,318.0 567.3,317.7 561.4,317.1 558.2,317.1 554.6,316.6 549.6,315.9 545.5,315.6 542.9,315.5 538.4,315.3 533.8,314.5 529.4,314.1 525.4,313.5 522.1,313.5 518.1,312.5 512.9,312.8 508.6,311.9 504.7,311.6 502.6,311.6 500.4,311.8 495.7,310.2 492.8,310.9 488.3,310.4 483.5,309.6 480.1,309.2 476.7,309.5 473.2,309.5 469.1,308.2 465.9,308.3 462.7,307.8 458.1,306.9 453.3,307.3 448.5,307.3 444.6,306.4 441.2,306.1 437.4,305.9 433.5,305.8 430.5,304.7 426.0,304.8 422.8,304.7 419.1,304.7 414.8,305.1 410.6,304.7 406.5,304.3 402.8,304.5 397.1,304.4 394.4,303.5 390.3,304.2 387.7,303.6 382.9,303.4 378.3,303.2 374.5,303.5 370.3,303.1 367.2,302.4 363.4,302.6 360.3,302.5 355.2,302.8 350.9,301.7 349.4,301.4 346.6,301.7 342.7,301.5 339.6,301.5 334.2,301.3 331.9,300.9 326.6,300.3 322.5,300.8 318.9,301.3 315.3,301.2 310.0,300.9 306.2,300.3 301.8,299.8 298.7,299.8 293.8,300.5 290.0,299.4 285.2,299.7 281.4,300.2 279.6,299.4 275.5,299.2 271.4,299.0 267.9,298.7 263.2,298.9 258.9,298.0 254.8,298.3 250.3,297.8 247.7,297.9 242.9,297.2 239.9,297.1 236.0,296.9 232.7,297.3 227.2,297.7 223.3,296.6 219.8,295.9 214.5,295.1 211.1,295.8 208.0,295.3 203.9,295.2 199.6,295.7 195.6,294.9 191.0,294.9 187.4,294.6 182.8,294.3 179.2,295.2 175.5,294.3 174.1,294.1 171.4,293.9 168.3,293.9 164.1,294.0 160.1,293.6 155.3,293.2 151.5,293.5 147.3,293.0 143.2,292.9 140.3,293.1 138.9,293.1 139.3,292.5 142.6,292.9 146.8,293.2 151.7,292.4 155.0,293.3 157.6,293.3 161.1,293.3 165.9,293.6 170.1,293.8 173.4,293.2 174.7,292.7 179.4,293.1 183.2,294.2 187.7,294.2 190.6,295.5 195.7,293.7 199.7,294.1 204.2,294.3 208.9,295.1 211.2,294.5 215.4,294.6 219.8,295.4 224.7,296.0 229.0,295.7 232.6,295.8 237.5,295.9 239.4,296.7 243.7,296.8 248.1,296.9 251.4,296.6 254.9,297.8 260.0,296.8 264.1,297.6 269.2,298.2 274.4,299.2 277.1,298.4 280.6,299.0 283.7,299.0 287.9,299.2 290.7,299.2 295.6,299.3 299.7,299.2 302.4,299.2 307.9,299.9 311.9,299.8 316.3,300.5 321.1,300.5 325.7,301.3 328.8,300.5 333.5,300.9 338.0,300.9 342.3,301.6 346.0,301.3 350.3,301.6 353.4,302.3 357.3,301.7 360.3,301.8 364.8,302.0 368.3,302.5 372.5,302.6 376.8,303.7 381.3,302.8 385.3,302.6 388.5,302.7 392.5,302.7 396.3,302.8 401.1,304.0 404.9,303.8 407.9,303.9 411.7,303.7 415.6,303.7 419.6,304.2 422.8,304.0 427.3,304.2 430.6,304.3 435.0,304.9 437.1,304.7 440.7,305.1 444.7,305.1 448.7,305.0 452.0,306.3 456.5,305.5 461.2,306.5 464.6,306.2 469.7,306.6 473.8,306.5 477.0,306.6 481.5,307.5 486.3,308.0 489.5,307.7 494.6,308.5 497.8,307.5 500.2,308.3 504.0,309.0 508.1,309.4 511.1,308.7 515.0,309.7 518.6,310.1 522.5,310.4 526.2,310.9 529.9,311.2 532.9,311.3 536.3,311.7 540.6,312.1 545.4,312.4 549.2,312.7 554.1,313.0 558.0,313.4 561.9,313.6 565.3,313.9 569.9,314.4 574.4,314.7 579.0,315.0 579.6,315.0 583.8,315.5 587.9,315.5 592.5,315.5 596.1,315.9 599.3,316.0 602.7,316.1 606.1,316.3 611.2,316.7 616.3,316.7 619.8,316.7 623.5,317.3 628.7,317.5 633.7,317.3 637.4,317.9 640.2,317.8 643.9,317.8 647.3,318.2 652.5,318.6 656.1,318.5 656.7,318.5 657.2,318.3 651.5,318.4 647.9,317.6 644.2,317.4 638.7,316.4 635.9,316.5 632.0,315.9 628.0,315.7 623.1,315.1 620.5,314.8 615.0,314.3 611.3,313.7 607.0,313.5 604.6,313.3 600.0,312.7 595.7,312.3 591.7,312.0 587.0,311.5 582.5,311.2 579.8,311.1 575.9,310.9 573.0,310.6 569.7,310.2 565.7,310.1 561.8,309.7 558.0,309.5 554.7,309.3 550.5,309.1 546.7,308.6 541.5,308.3 538.0,307.8 533.4,307.8 529.4,307.6 525.8,307.3 522.0,307.0 516.9,306.7 514.1,306.3 510.1,306.5 505.4,306.4 502.3,305.2 500.0,305.4 495.1,305.0 490.7,305.2 486.4,304.4 482.5,304.8 479.4,304.1 476.4,304.5 472.5,304.0 467.9,303.7 464.4,304.1 460.3,302.6 455.4,302.5 451.8,302.6 448.1,302.0 445.0,301.5 442.0,301.0 436.7,300.5 433.2,301.4 429.6,301.5 426.6,301.0 422.7,300.8 418.8,300.4 414.2,301.8 409.9,300.1 405.0,299.9 401.4,299.6 397.6,299.4 394.2,299.7 391.0,299.4 387.4,298.8 383.8,297.4 379.5,298.5 376.9,298.2 372.2,298.1 367.5,297.9 362.9,297.0 357.4,297.7 353.7,298.2 349.6,296.8 349.4,297.3 345.2,297.1 340.3,295.9 335.9,296.3 332.7,295.5 328.1,295.3 324.3,295.5 319.1,295.9 315.4,295.0 312.1,295.4 307.5,294.5 303.0,294.3 299.3,294.2 295.9,294.0 291.3,293.3 288.1,293.7 283.4,293.0 279.8,293.0 275.6,292.5 272.7,292.9 268.8,292.2 265.1,292.4 260.1,291.9 254.8,292.7 252.4,292.2 247.3,291.1 244.1,292.2 239.4,290.6 236.4,291.3 233.2,291.8 228.4,290.9" fill="none" stroke="#e24a4a" stroke-width="1.0" stroke-linejoin="round"/></svg>
</body></html>
